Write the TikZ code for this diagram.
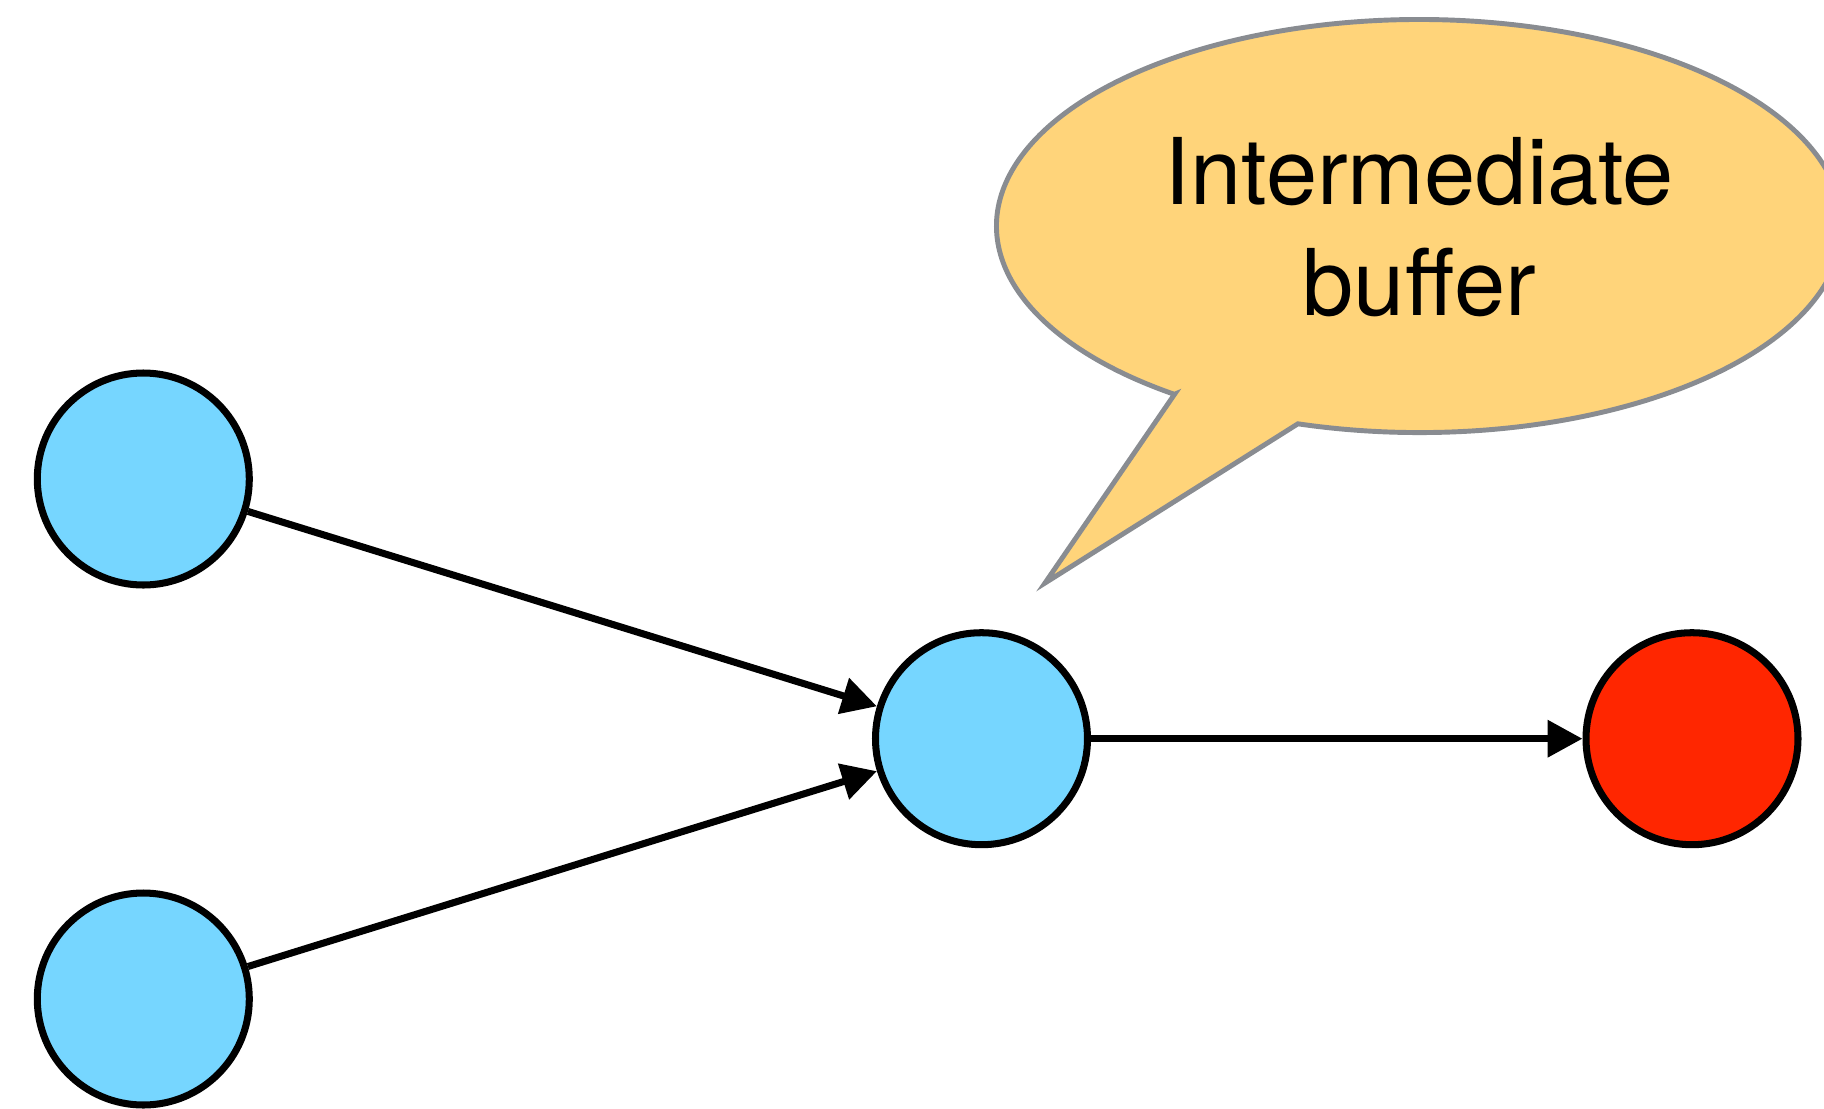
\documentclass[tikz,border=0pt]{standalone}
\usepackage{fontspec}
\setmainfont{TeX Gyre Heros}
\usetikzlibrary{arrows.meta}
\definecolor{nodeblue}{RGB}{118,214,255}
\definecolor{sinkred}{RGB}{255,38,0}
\definecolor{bubble}{RGB}{255,212,122}
\definecolor{bubbleline}{RGB}{137,140,145}
\tikzset{vertex/.style={circle,draw=black,line width=2pt,fill=nodeblue,inner sep=0pt,minimum size=2.12cm},
         flow/.style={black,line width=2pt,-{Triangle[length=0.35cm,width=0.36cm]}},
         bubblestyle/.style={draw=bubbleline,fill=bubble,line width=1.4pt}}

\begin{document}
\begin{tikzpicture}
                \useasboundingbox (0,0) rectangle (18.24,-11.08);
                % callout
                \coordinate (tip) at (10.45,-5.83);
                \coordinate (lnotch) at (11.745,-3.943);
                \coordinate (rnotch) at (12.979,-4.238);
                \draw [bubblestyle] (lnotch) -- (tip) -- (rnotch)
                    arc [start angle=253.3,end angle=594.6,x radius=4.23,y radius=2.065] -- cycle;
                \node (label) [align=center,inner sep=0pt,font=\fontsize{26.2}{31.8}\selectfont] at (14.195,-2.27) {Intermediate\\buffer};
                % graph
                \node (mid) [vertex] at (9.815,-7.387){};
                \node (sink) [vertex,fill=sinkred] at (16.92,-7.387){};
                \draw [flow] (mid) -- (sink);
                \node (src1) [vertex] at (1.433,-4.79){}
                    edge [flow] (mid)
                ;
                \node (src2) [vertex] at (1.433,-9.99){}
                    edge [flow] (mid)
                ;
            \end{tikzpicture}
\end{document}
